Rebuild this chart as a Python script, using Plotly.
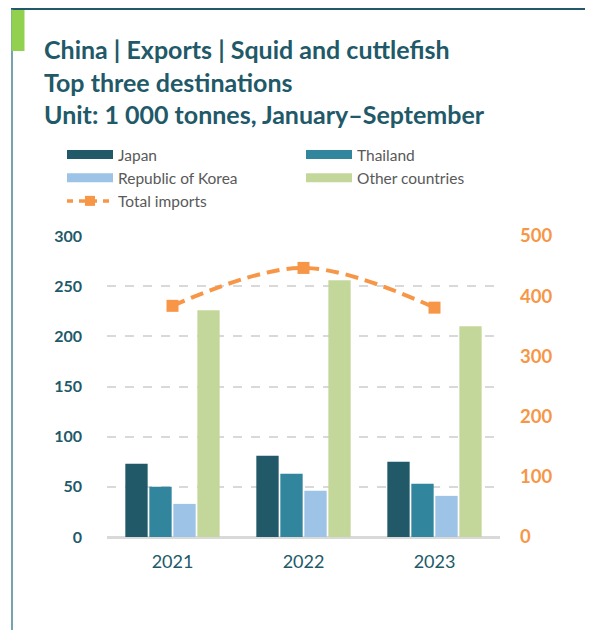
import plotly.graph_objects as go

years = ["2021", "2022", "2023"]
japan = [73, 81, 75]
thailand = [50, 63, 53]
korea = [33, 46, 41]
other = [226, 256, 210]
total_imports = [384, 447, 381]

left_ticks = [0, 50, 100, 150, 200, 250, 300]
right_ticks = [0, 100, 200, 300, 400, 500]

C_JAPAN = "#215968"
C_THAI = "#31859C"
C_KOREA = "#9DC3E6"
C_OTHER = "#C4D79B"
C_ORANGE = "#F79646"
C_TEXT = "#215968"
C_LEG = "#595959"
FONT = "Lato"

W, H = 593, 630
OFF = 8  # page body margin


def px(x):
    return (x - OFF) / W


def py(y):
    return 1 - (y - OFF) / H


fig = go.Figure()

series = [("Japan", japan, C_JAPAN), ("Thailand", thailand, C_THAI),
          ("Republic of Korea", korea, C_KOREA), ("Other countries", other, C_OTHER)]
for name, vals, col in series:
    fig.add_trace(go.Bar(x=years, y=vals, name=name, marker=dict(color=col, line=dict(width=0)),
                         showlegend=False, yaxis="y"))

fig.add_trace(go.Scatter(x=years, y=total_imports, name="Total imports", yaxis="y2",
                         mode="lines+markers",
                         line=dict(color=C_ORANGE, width=4, dash="13px,7px", shape="spline"),
                         marker=dict(symbol="square", size=12, color=C_ORANGE),
                         showlegend=False))

# legend entries
leg_map = {"Japan": "legend", "Republic of Korea": "legend",
           "Thailand": "legend2", "Other countries": "legend2"}
for name, vals, col in [series[0], series[2], series[1], series[3]]:
    fig.add_trace(go.Scatter(x=[None], y=[None], name=name, mode="lines",
                             line=dict(color=col, width=9), legend=leg_map[name]))
fig.add_trace(go.Scatter(x=[None], y=[None], name="Total imports", mode="lines+markers",
                         line=dict(color=C_ORANGE, width=3.5, dash="6px,6px"),
                         marker=dict(symbol="square", size=10, color=C_ORANGE), legend="legend"))

leg_common = dict(font=dict(family=FONT, size=15.5, color=C_LEG), bgcolor="rgba(0,0,0,0)",
                  itemwidth=46, tracegroupgap=0, yanchor="top", xanchor="left",
                  orientation="v", traceorder="normal")

fig.update_layout(
    width=W, height=H,
    margin=dict(l=0, r=0, t=0, b=0, autoexpand=False),
    paper_bgcolor="white", plot_bgcolor="white",
    barmode="group", bargap=0.267, bargroupgap=0.07,
    title=dict(text="China | Exports | Squid and cuttlefish<br>Top three destinations<br>"
                    "Unit: 1 000 tonnes, January\u2013September",
               x=px(44), xanchor="left", y=py(59), yanchor="top", automargin=False,
               font=dict(family=FONT, size=25, color=C_TEXT, weight="bold")),
    xaxis=dict(domain=[px(107), px(500)], showgrid=False, showline=False, zeroline=False,
               automargin=False,
               tickfont=dict(family=FONT, size=18, color=C_TEXT), ticks="", ticklabelstandoff=12),
    yaxis=dict(domain=[py(537), py(236)], range=[0, 300], tickvals=left_ticks,
               showgrid=True, gridcolor="#D9D9D9", gridwidth=1.5, griddash="dash",
               zeroline=True, zerolinecolor="#D9D9D9", zerolinewidth=2.5, automargin=False,
               tickfont=dict(family=FONT, size=16, color=C_TEXT, weight="bold"),
               ticks="", ticklabelstandoff=24, fixedrange=True),
    yaxis2=dict(overlaying="y", side="right", range=[0, 500], tickvals=right_ticks,
                showgrid=False, zeroline=False, showline=False, automargin=False,
                tickfont=dict(family=FONT, size=18.5, color=C_ORANGE, weight="bold"),
                ticks="", ticklabelstandoff=19),
    legend=dict(x=px(62), y=py(138), **leg_common),
    legend2=dict(x=px(301), y=py(138), **leg_common),
    shapes=[
        dict(type="line", xref="paper", yref="paper", x0=px(11), x1=1, y0=py(9), y1=py(9),
             line=dict(color="#215968", width=2)),
        dict(type="line", xref="paper", yref="paper", x0=px(12), x1=px(12), y0=py(9), y1=0,
             line=dict(color="#4A8595", width=1.5)),
        dict(type="rect", xref="paper", yref="paper", x0=px(11.5), x1=px(24.5), y0=py(10), y1=py(51),
             fillcolor="#92D050", line=dict(width=0)),
    ],
)

fig.write_html("out.html")
